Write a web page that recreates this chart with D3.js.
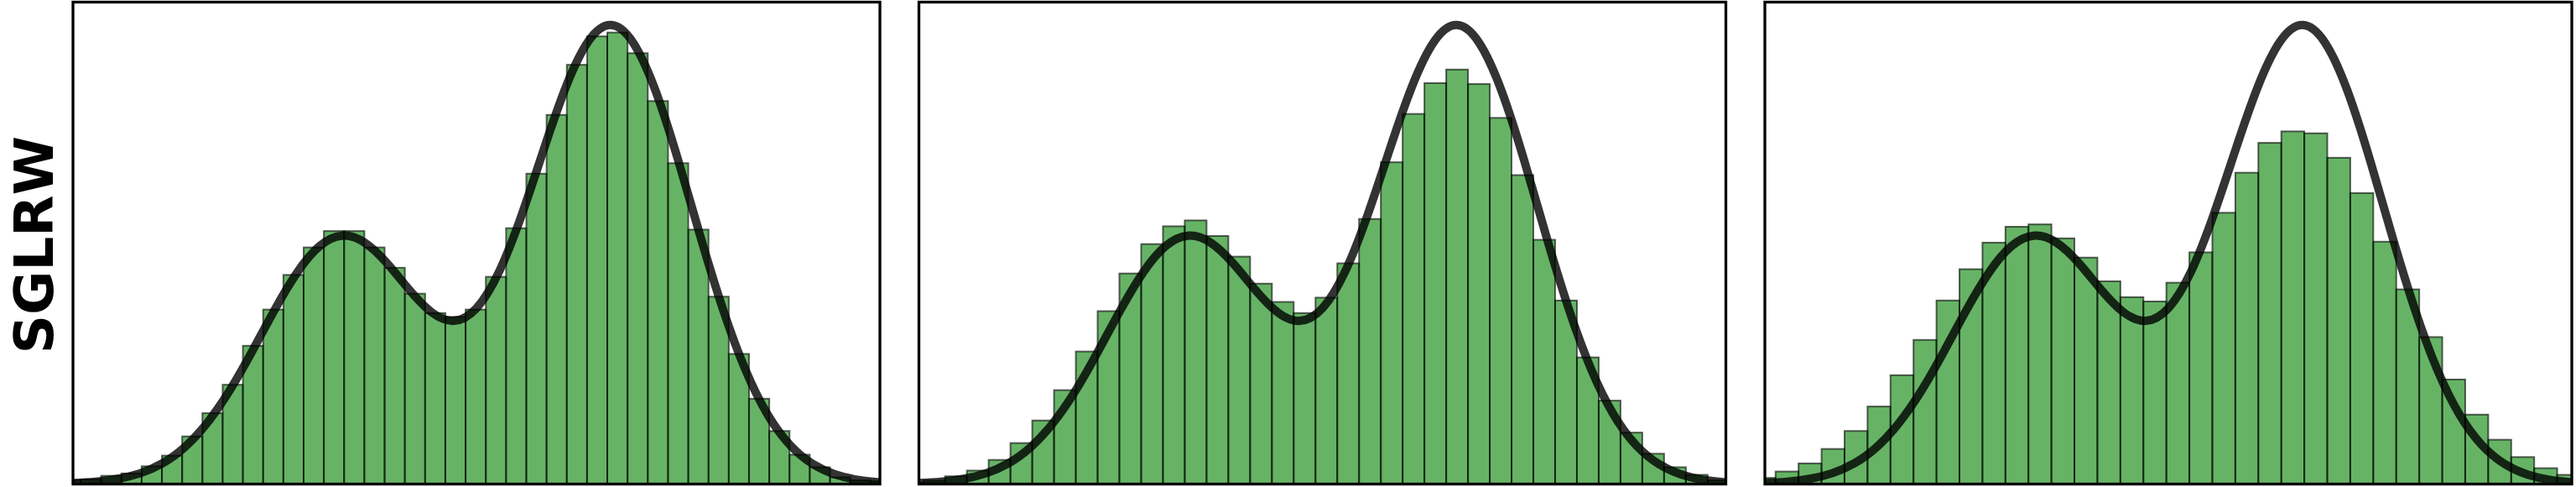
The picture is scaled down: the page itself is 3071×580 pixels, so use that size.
<!DOCTYPE html>
<html><head><meta charset="utf-8">
<script src="https://cdn.jsdelivr.net/npm/d3@7"></script>
<style>html,body{margin:0;padding:0;background:#fff;} svg{display:block;}</style>
</head><body>
<script>
// ---- data ----
const curveX = [-4.5,-4.25,-4.0,-3.75,-3.5,-3.25,-3.0,-2.75,-2.5,-2.25,-2.0,-1.75,-1.5,-1.25,-1.0,-0.75,-0.5,-0.25,0,0.25,0.5,0.75,1.0,1.25,1.5,1.75,2.0,2.25,2.5,2.75,3.0,3.25,3.5,3.75,4.0,4.25,4.5];
const curveY = [0.0006,0.0015,0.0033,0.0068,0.0131,0.0234,0.0387,0.0591,0.0837,0.1097,0.1331,0.1497,0.1563,0.1520,0.1391,0.1223,0.1081,0.1027,0.1106,0.1333,0.1686,0.2104,0.2502,0.2787,0.2888,0.2775,0.2471,0.2037,0.1554,0.1099,0.0719,0.0435,0.0244,0.0127,0.0061,0.0027,0.0011];

const binStarts = [-4.637, -4.694, -4.637];
const binWidths = [0.2258, 0.2430, 0.2564];

const heights1 = [0.0024,0.0029,0.0052,0.0067,0.0112,0.0179,0.0300,0.0446,0.0625,0.0870,0.1098,0.1316,0.1489,0.1592,0.1592,0.1489,0.1361,0.1198,0.1076,0.1052,0.1098,0.1304,0.1610,0.1953,0.2323,0.2638,0.2817,0.2841,0.2711,0.2410,0.2019,0.1601,0.1179,0.0819,0.0537,0.0334,0.0185,0.0106,0.0042,0.0024,0.0018];
const heights2 = [0.0009,0.0021,0.0049,0.0085,0.0152,0.0258,0.0400,0.0591,0.0834,0.1088,0.1325,0.1510,0.1622,0.1659,0.1561,0.1431,0.1261,0.1146,0.1076,0.1173,0.1389,0.1668,0.2025,0.2329,0.2523,0.2608,0.2517,0.2304,0.1944,0.1537,0.1155,0.0797,0.0525,0.0324,0.0191,0.0106,0.0058,0.0024];
const heights3 = [0.0039,0.0079,0.0130,0.0221,0.0334,0.0488,0.0685,0.0907,0.1155,0.1352,0.1519,0.1619,0.1634,0.1546,0.1425,0.1276,0.1176,0.1149,0.1267,0.1458,0.1707,0.1959,0.2147,0.2219,0.2207,0.2053,0.1831,0.1525,0.1225,0.0925,0.0658,0.0437,0.0279,0.0170,0.0100,0.0058];

const rowLabel = "SGLRW";
const xDomain = [-4.5, 4.5];

// ---- layout ----
const W = 3071, H = 580;
const panelW = 962, panelH = 574;
const panelLefts = [87, 1095.5, 2104];
const panelTop = 2.5;

const svg = d3.select("body").append("svg").attr("width", W).attr("height", H);
const defs = svg.append("defs");

const x = d3.scaleLinear().domain(xDomain).range([0, panelW]);
const yMax = d3.max(curveY) * 1.05;
const y = d3.scaleLinear().domain([0, yMax]).range([panelH, 0]);

const allHeights = [heights1, heights2, heights3];
const curvePts = curveX.map((v, i) => [v, curveY[i]]);
const line = d3.line().x(d => x(d[0])).y(d => y(d[1])).curve(d3.curveNatural);

allHeights.forEach((hs, p) => {
  const g = svg.append("g").attr("transform", `translate(${panelLefts[p]},${panelTop})`);
  const cid = "clip" + p;
  defs.append("clipPath").attr("id", cid).append("rect")
    .attr("x", 0).attr("y", 0).attr("width", panelW).attr("height", panelH);
  const inner = g.append("g").attr("clip-path", `url(#${cid})`);
  const bins = hs.map((h, i) => ({x0: binStarts[p] + i * binWidths[p], x1: binStarts[p] + (i + 1) * binWidths[p], h}));
  inner.selectAll("rect.bar").data(bins).enter().append("rect")
    .attr("class", "bar")
    .attr("x", d => x(d.x0))
    .attr("width", d => x(d.x1) - x(d.x0))
    .attr("y", d => y(d.h))
    .attr("height", d => y(0) - y(d.h))
    .attr("fill", "rgba(0,128,0,0.6)")
    .attr("stroke", "rgba(0,0,0,0.6)")
    .attr("stroke-width", 2);
  inner.append("path").datum(curvePts)
    .attr("d", line)
    .attr("fill", "none")
    .attr("stroke", "rgba(0,0,0,0.8)")
    .attr("stroke-width", 10)
    .attr("stroke-linejoin", "round");
  g.append("rect").attr("x", 0).attr("y", 0).attr("width", panelW).attr("height", panelH)
    .attr("fill", "none").attr("stroke", "#000").attr("stroke-width", 3.3);
});

svg.append("text")
  .attr("transform", `translate(63,${panelTop + panelH / 2 + 2}) rotate(-90)`)
  .attr("text-anchor", "middle")
  .attr("font-family", "DejaVu Sans")
  .attr("font-weight", "bold")
  .attr("font-size", 64)
  .attr("fill", "#000")
  .text(rowLabel);
</script>
</body></html>
